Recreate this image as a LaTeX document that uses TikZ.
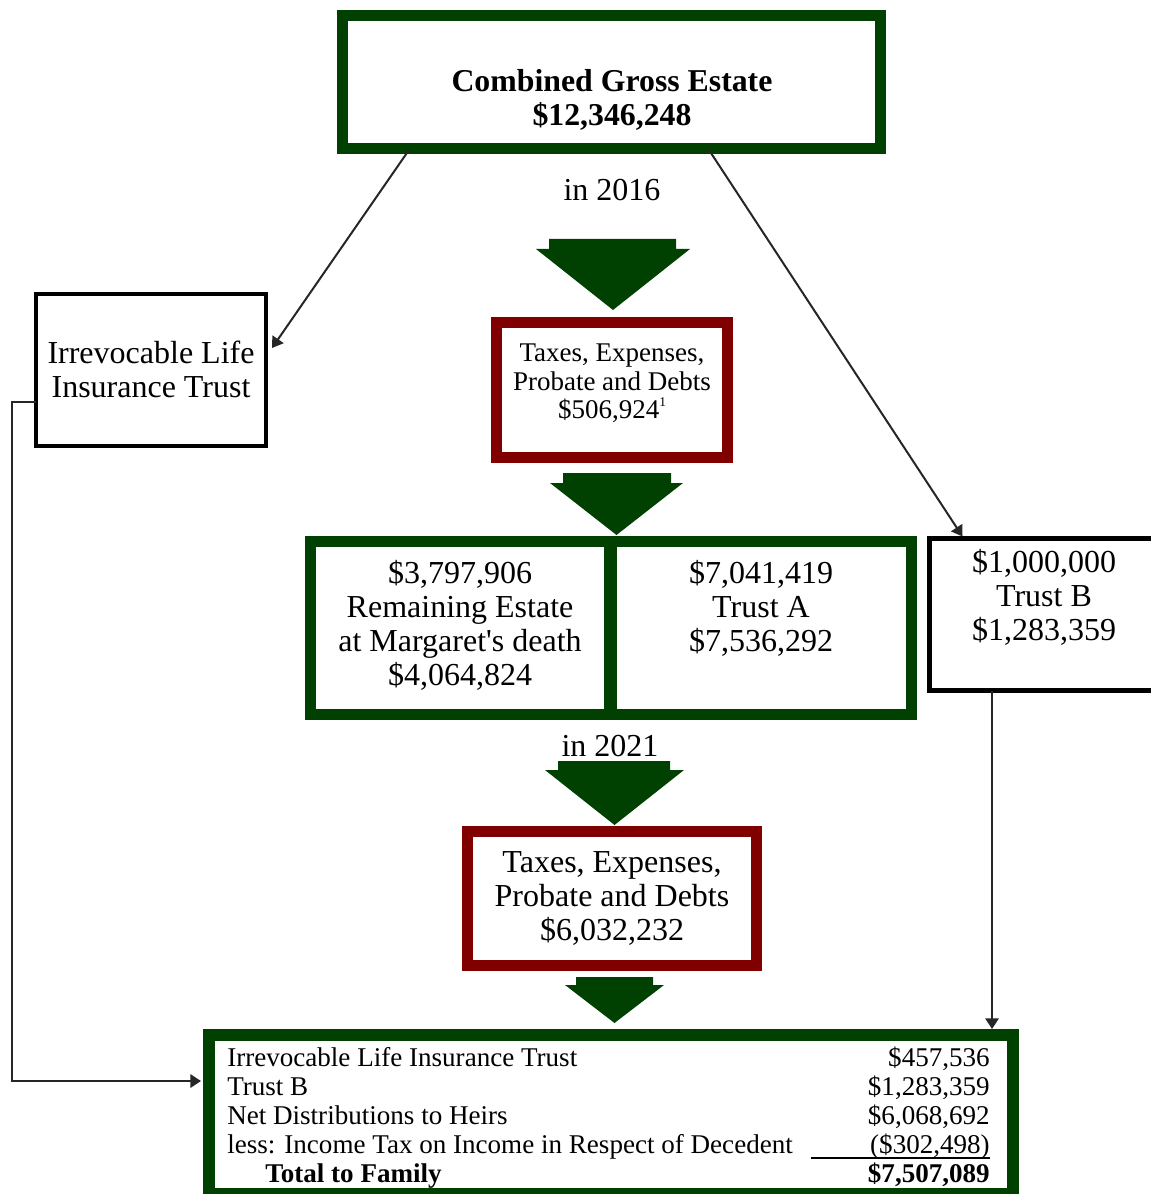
\documentclass[tikz,border=0pt]{standalone}
\usepackage{fontspec}
\setmainfont{Liberation Serif}
\usetikzlibrary{arrows.meta,calc}
\definecolor{dgreen}{RGB}{0,64,0}
\definecolor{dred}{RGB}{128,0,0}
\newcommand\fbig{\fontsize{24}{25.5}\selectfont}
\newcommand\fsmall{\fontsize{20.25}{21.4}\selectfont}
\newcommand\ftitle{\bfseries\fontsize{23.85}{25.5}\selectfont}
\newcommand\ftbl{\fontsize{20.3}{21.75}\selectfont}
\begin{document}
\begin{tikzpicture}[x=0.75pt,y=-0.75pt,
  boxbase/.style={rectangle,inner sep=0pt,outer sep=0pt},
  gbox/.style={boxbase,draw=dgreen,line width=8.25pt},
  rbox/.style={boxbase,draw=dred,line width=8.25pt},
  kbox/.style={boxbase,draw=black,line width=3pt},
  txt/.style={inner sep=0pt,align=center,font=\fbig},
  tbl/.style={inner sep=0pt,font=\ftbl},
  conn/.style={draw=black!85,line width=1.5pt,-{Triangle[length=8pt,width=10pt]}},
  blockarrow/.style={fill=dgreen}]
\useasboundingbox (0,0) rectangle (1150,1194);
% boxes
\node[gbox,minimum width=403.5pt,minimum height=99.75pt] (top) at (611.5,82) {};
\node[kbox,minimum width=172.5pt,minimum height=114pt] (ilit) at (151,370) {};
\node[rbox,minimum width=173.25pt,minimum height=100.875pt] (red1) at (612,389.75) {};
\node[gbox,minimum width=224.25pt,minimum height=129.375pt] (midL) at (460,627.75) {};
\node[gbox,minimum width=225pt,minimum height=129.375pt] (midR) at (761.5,627.75) {};
\node[boxbase,draw=black,line width=3.4pt,minimum width=176.6pt,minimum height=114pt] (trustb) at (1047.25,614.5) {};
\node[rbox,minimum width=216.4pt,minimum height=100.5pt] (red2) at (612.25,898.5) {};
\node[gbox,line width=9pt,minimum width=603pt,minimum height=119.25pt] (bottom) at (611,1114.5) {};
% texts
\node[txt,font=\ftitle] (ttl) at (612,100) {Combined Gross Estate\\\$12,346,248};
\node[txt] (in16) at (612,190) {in 2016};
\node[txt] (ilittxt) at (151,369.5) {Irrevocable Life\\Insurance Trust};
\node[txt,font=\fsmall] (red1txt) at (612,383.5) {Taxes, Expenses,\\Probate and Debts\\\$506,924\raisebox{0.45em}{\fontsize{10}{10}\selectfont 1}};
\node[txt] (midLtxt) at (460,625) {\$3,797,906\\Remaining Estate\\at Margaret\textquotesingle s death\\\$4,064,824};
\node[txt] (midRtxt) at (761,608) {\$7,041,419\\Trust A\\\$7,536,292};
\node[txt] (tbtxt) at (1044,597) {\$1,000,000\\Trust B\\\$1,283,359};
\node[txt] (in21) at (610,746) {in 2021};
\node[txt] (red2txt) at (612,898.5) {Taxes, Expenses,\\Probate and Debts\\\$6,032,232};
% table
\node[tbl,anchor=base west] (r1l) at (227,1066) {Irrevocable Life Insurance Trust};
\node[tbl,anchor=base east] (r1r) at (990,1066) {\$457,536};
\node[tbl,anchor=base west] (r2l) at (227,1095) {Trust B};
\node[tbl,anchor=base east] (r2r) at (990,1095) {\$1,283,359};
\node[tbl,anchor=base west] (r3l) at (227,1124) {Net Distributions to Heirs};
\node[tbl,anchor=base east] (r3r) at (990,1124) {\$6,068,692};
\node[tbl,anchor=base west] (r4l) at (227,1153) {less: Income Tax on Income in Respect of Decedent};
\node[tbl,anchor=base east] (r4r) at (990,1153) {(\$302,498)};
\node[tbl,anchor=base west,font=\ftbl\bfseries] (r5l) at (265,1182) {Total to Family};
\node[tbl,anchor=base east,font=\ftbl\bfseries] (r5r) at (990,1182) {\$7,507,089};
\draw[line width=1.4pt] (811,1158) -- (990,1158);
% block arrows
\fill[blockarrow] (549,239) -- (676,239) -- (676,249) -- (690,249) -- (613,310) -- (536,249) -- (549,249) -- cycle;
\fill[blockarrow] (563,473) -- (671,473) -- (671,483) -- (683,483) -- (616.5,535) -- (550,483) -- (563,483) -- cycle;
\fill[blockarrow] (558,761) -- (670,761) -- (670,770) -- (684,770) -- (614.5,825) -- (545,770) -- (558,770) -- cycle;
\fill[blockarrow] (576,977) -- (653,977) -- (653,985) -- (664,985) -- (614.5,1023) -- (565,985) -- (576,985) -- cycle;
% connectors
\coordinate (bin) at ($(bottom.north)+(0,-6)$);
\coordinate (bl) at ($(bottom.west)+(-8,-33.5)$);
\draw[conn] ($(top.south)+(-201.5,0)$) -- ($(ilit.east)+(6,-22)$);
\draw[conn] ($(top.south)+(96.5,0)$) -- ($(trustb.north west)+(33,-2)$);
\draw[conn] ($(trustb.south west)+(62.5,0)$) coordinate (tbd) -- (tbd |- bin);
\draw[conn,line width=1.8pt] ($(ilit.west)+(0,32)$) -- ++(-24,0) |- (bl);
\end{tikzpicture}
\end{document}
